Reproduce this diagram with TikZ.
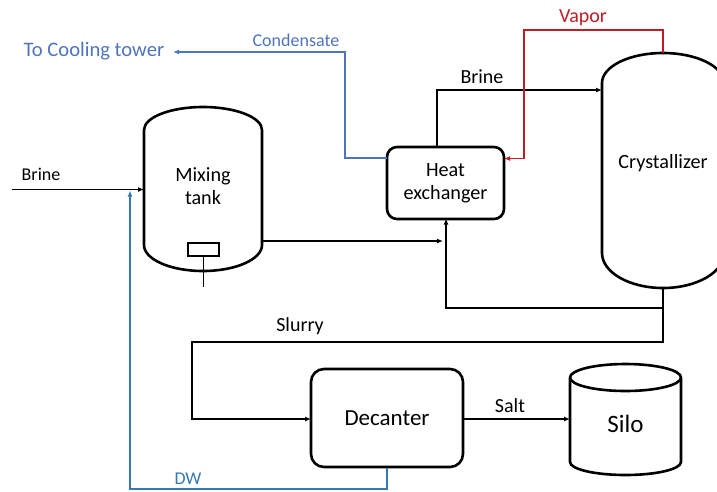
\documentclass[tikz,border=0pt]{standalone}
\usepackage{fontspec}
\setmainfont{Carlito}
\usetikzlibrary{arrows.meta}
\definecolor{coolblue}{RGB}{78,116,190}
\definecolor{dwblue}{RGB}{52,122,178}
\definecolor{vapred}{RGB}{192,28,36}
\tikzset{
  shapeline/.style={line width=2.6pt, line join=round},
  conn/.style={line width=1.4pt, -{Latex[length=6pt,width=5pt]}},
  lbl/.style={inner sep=0pt, font=\fontsize{20}{23}\selectfont},
  smalllbl/.style={inner sep=0pt, font=\fontsize{18}{21}\selectfont},
  unit/.style={inner sep=0pt, align=center, font=\fontsize{20.2}{23}\selectfont},
}
\begin{document}
\begin{tikzpicture}[x=1pt,y=-1pt]
\useasboundingbox (0,0) rectangle (717,491);
\clip (0,0) rectangle (717,491);

% ---- Mixing tank ----
\draw[shapeline] (144,130) arc[start angle=180,end angle=360,x radius=59,y radius=23]
  -- (262,245) arc[start angle=0,end angle=180,x radius=59,y radius=26] -- cycle;
\node[unit] (mix) at (203,186) {Mixing\\tank};
\node[draw, line width=1.7pt, minimum width=31pt, minimum height=13pt, inner sep=0pt] (stir) at (203.5,249.5) {};
\coordinate (stirend) at (203.5,287);
\draw[line width=1.7pt] (stir.south) -- (stirend);

% ---- Heat exchanger ----
\node[draw, shapeline, rounded corners=10pt, minimum width=117pt, minimum height=72pt,
      inner sep=0pt, align=center, font=\fontsize{20.2}{23}\selectfont] (hx) at (445.5,183) {Heat\\exchanger};

% ---- Crystallizer ----
\draw[shapeline] (602,83) arc[start angle=180,end angle=360,x radius=61,y radius=30]
  -- (724,253) arc[start angle=0,end angle=180,x radius=61,y radius=35] -- cycle;
\node[unit] (cry) at (663,163.5) {Crystallizer};

% ---- Decanter ----
\node[draw, shapeline, rounded corners=13pt, minimum width=152pt, minimum height=98pt,
      inner sep=0pt, font=\fontsize{23}{27}\selectfont] (dec) at (387,418) {Decanter};

% ---- Silo ----
\draw[shapeline] (625.5,377.5) ellipse[x radius=55.5,y radius=13.5];
\draw[shapeline] (570,377.5) -- (570,462) arc[start angle=180,end angle=0,x radius=55.5,y radius=13] -- (681,377.5);
\node[inner sep=0pt, font=\fontsize{25}{28}\selectfont] (silo) at (625.5,424) {Silo};

% ---- port coordinates ----
\coordinate (brinein) at (12,189.5);
\coordinate (mixin) at (144,189.5);
\coordinate (mixout) at (262,241);
\coordinate (hxbot) at (446,218.5);
\coordinate (hxtop) at (437,147);
\coordinate (cryleft) at (602,90);
\coordinate (crytop) at (663,53);
\coordinate (crybot) at (663,288);
\coordinate (hxright) at (504,158.5);
\coordinate (hxleft) at (387,158);
\coordinate (cooling) at (173,52);
\coordinate (decleft) at (311,419);
\coordinate (decright) at (463,419);
\coordinate (siloleft) at (570,419);
\coordinate (decbot) at (387,468);
\coordinate (dwup) at (130,190.5);

% ---- connectors ----
% Brine feed
\draw[conn] (brinein) -- (mixin);
\node[smalllbl] (lbrine) at (41,174) {Brine};
% DW recycle
\draw[conn, dwblue] (decbot) -- (387,489) -- (130,489) -- (dwup);
\node[smalllbl, text=dwblue] (ldw) at (188,479) {DW};
% Mixing tank to heat exchanger
\draw[conn] (mixout) -- (443,241);
% Crystallizer recycle to heat exchanger
\draw[conn] (crybot) -- (663,308) -- (446,308) -- (hxbot);
% Heat exchanger to crystallizer (brine)
\draw[conn] (hxtop) -- (437,90) -- (cryleft);
\node[lbl] (lbrine2) at (482,77) {Brine};
% Vapor
\draw[conn, vapred] (crytop) -- (663,30) -- (524,30) -- (524,158.5) -- (hxright);
\node[lbl, text=vapred] (lvapor) at (583,17.5) {Vapor};
% Condensate
\draw[conn, coolblue] (hxleft) -- (345,158) -- (345,52) -- (cooling);
\node[smalllbl, text=coolblue] (lcond) at (296,40.5) {Condensate};
\node[lbl, text=coolblue, font=\fontsize{20.6}{24}\selectfont] (lcool) at (94,51.5) {To Cooling tower};
% Slurry
\draw[conn] (crybot) -- (663,342) -- (192,342) -- (192,419) -- (decleft);
\node[lbl] (lslurry) at (300,326.5) {Slurry};
% Salt
\draw[conn] (decright) -- (siloleft);
\node[lbl] (lsalt) at (510,406) {Salt};
\end{tikzpicture}
\end{document}
